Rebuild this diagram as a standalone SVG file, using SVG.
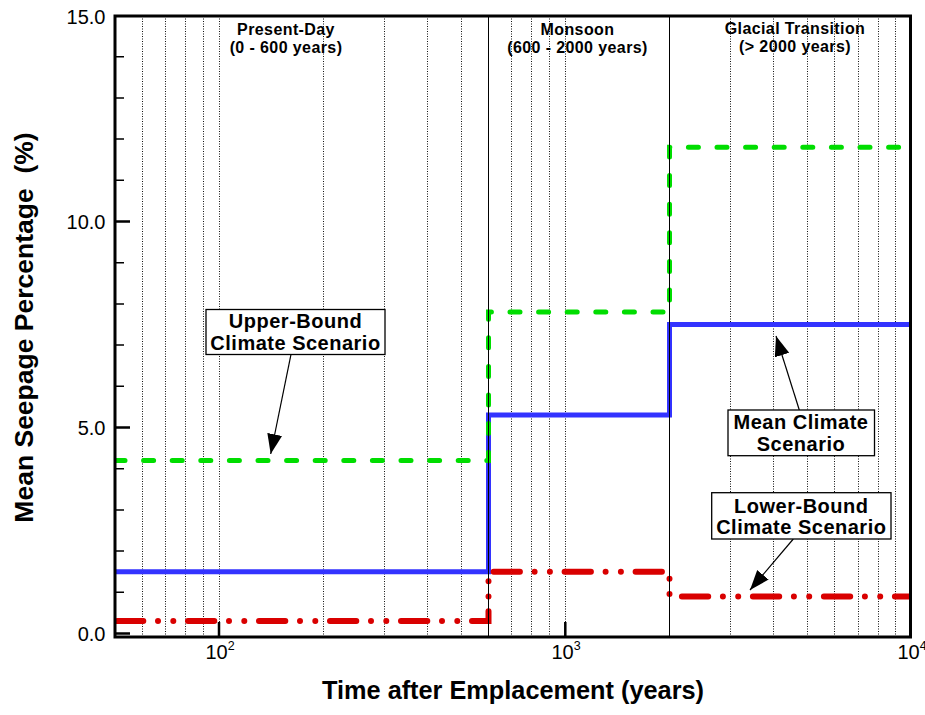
<svg xmlns="http://www.w3.org/2000/svg" width="925" height="715" viewBox="0 0 925 715">
<style>
.grid{stroke:#111;stroke-width:1;stroke-dasharray:1 1.5;fill:none}
.sep{stroke:#000;stroke-width:1;fill:none}
.tk{font-family:"Liberation Sans",Arial,sans-serif;font-size:20px;fill:#000}
.hdr{font-family:"Liberation Sans",Arial,sans-serif;font-size:16px;font-weight:bold;letter-spacing:0.4px;fill:#000;text-anchor:middle}
.ttl{font-family:"Liberation Sans",Arial,sans-serif;font-weight:bold;fill:#000;text-anchor:middle}
.lbl{font-family:"Liberation Sans",Arial,sans-serif;font-size:20px;font-weight:bold;letter-spacing:0.5px;fill:#000;text-anchor:middle}
.box{fill:#fff;stroke:#000;stroke-width:1.3}
.arr{stroke:#000;stroke-width:1.2;fill:none;marker-end:url(#ah)}
.mtk{stroke:#000;stroke-width:2.5}
.ntk{stroke:#000;stroke-width:1.5}
</style>
<defs>
<marker id="ah" markerUnits="userSpaceOnUse" markerWidth="22" markerHeight="16" refX="20" refY="7.5" orient="auto" viewBox="0 0 22 16">
<path d="M0,0 L20,7.5 L0,15 z" fill="#000"/>
</marker>
<clipPath id="plot"><rect x="115" y="16" width="796" height="621"/></clipPath>
</defs>
<rect width="925" height="715" fill="#fff"/>
<g id="grid">
<path class="grid" d="M142.5,16V637M165.5,16V637M185.5,16V637M203.5,16V637M219.5,16V637M323.5,16V637M384.5,16V637M427.5,16V637M461.5,16V637M511.5,16V637M531.5,16V637M549.5,16V637M565.5,16V637M730.5,16V637M773.5,16V637M807.5,16V637M834.5,16V637M858.5,16V637M878.5,16V637M895.5,16V637"/>
</g>
<g id="series" clip-path="url(#plot)">
<path id="mean" d="M115,571.7H488.5V415.1H669.5V324.5H912" fill="none" stroke="#3333ff" stroke-width="5"/>
<path id="lower" d="M115,621.1H488.5V571.7H669.5V596.4H912" fill="none" stroke="#d90000" stroke-width="6" stroke-linecap="round" stroke-dasharray="26.3 14.7 0 15.3 0 14.7" stroke-dashoffset="69"/>
<path id="upper" d="M115,460.5H488.5V312.1H669.5V147.3H912" fill="none" stroke="#00dd00" stroke-width="5" stroke-linecap="round" stroke-dasharray="10 18.6"/>
</g>
<g id="separators">
<path class="sep" d="M488.5,16V637M669.5,16V637"/>
</g>
<g id="period-labels">
<text class="hdr" x="286" y="34.5">Present-Day</text>
<text class="hdr" x="286" y="52.5">(0 - 600 years)</text>
<text class="hdr" x="577.5" y="34.5">Monsoon</text>
<text class="hdr" x="577.5" y="52.5">(600 - 2000 years)</text>
<text class="hdr" x="795" y="34">Glacial Transition</text>
<text class="hdr" x="795" y="52">(&gt; 2000 years)</text>
</g>
<g id="axes">
<rect x="115" y="16" width="795.5" height="621" fill="none" stroke="#000" stroke-width="3"/>
<path class="mtk" d="M115,633.5H130M115,427.5H130M115,221.5H130M219,637V622M565.3,637V622"/>
<path class="ntk" d="M115,592.3H124M115,551.1H124M115,509.9H124M115,468.7H124M115,386.3H124M115,345.1H124M115,303.9H124M115,262.7H124M115,180.3H124M115,139.1H124M115,97.9H124M115,56.7H124"/>
<text class="tk" x="105.5" y="24" text-anchor="end">15.0</text>
<text class="tk" x="105.5" y="229" text-anchor="end">10.0</text>
<text class="tk" x="105.5" y="435" text-anchor="end">5.0</text>
<text class="tk" x="105.5" y="641" text-anchor="end">0.0</text>
<text class="tk" x="220" y="659" text-anchor="middle" font-size="19.5">10<tspan font-size="12.5" dy="-9">2</tspan></text>
<text class="tk" x="566" y="659" text-anchor="middle" font-size="19.5">10<tspan font-size="12.5" dy="-9">3</tspan></text>
<text class="tk" x="912" y="659" text-anchor="middle" font-size="19.5">10<tspan font-size="12.5" dy="-9">4</tspan></text>
<text class="ttl" x="513" y="699" font-size="25.3">Time after Emplacement (years)</text>
<text class="ttl" font-size="26.5" transform="translate(33,327.5) rotate(-90)" xml:space="preserve">Mean Seepage Percentage  (%)</text>
</g>
<g id="connectors">
<path class="arr" d="M291,354.3L270.7,454"/>
<path class="arr" d="M799.3,410L776,336"/>
<path class="arr" d="M793.3,539L750,590"/>
</g>
<g id="upper-label">
<rect class="box" x="206" y="309.5" width="179" height="45"/>
<text class="lbl" x="295.5" y="328.3">Upper-Bound</text>
<text class="lbl" x="295.5" y="350">Climate Scenario</text>
</g>
<g id="mean-label">
<rect class="box" x="728" y="410" width="146.5" height="45.7"/>
<text class="lbl" x="801" y="429.3">Mean Climate</text>
<text class="lbl" x="801" y="450.7">Scenario</text>
</g>
<g id="lower-label">
<rect class="box" x="711.7" y="492.7" width="179.3" height="46.3"/>
<text class="lbl" x="801.3" y="512.7">Lower-Bound</text>
<text class="lbl" x="801.3" y="534.3">Climate Scenario</text>
</g>
</svg>
